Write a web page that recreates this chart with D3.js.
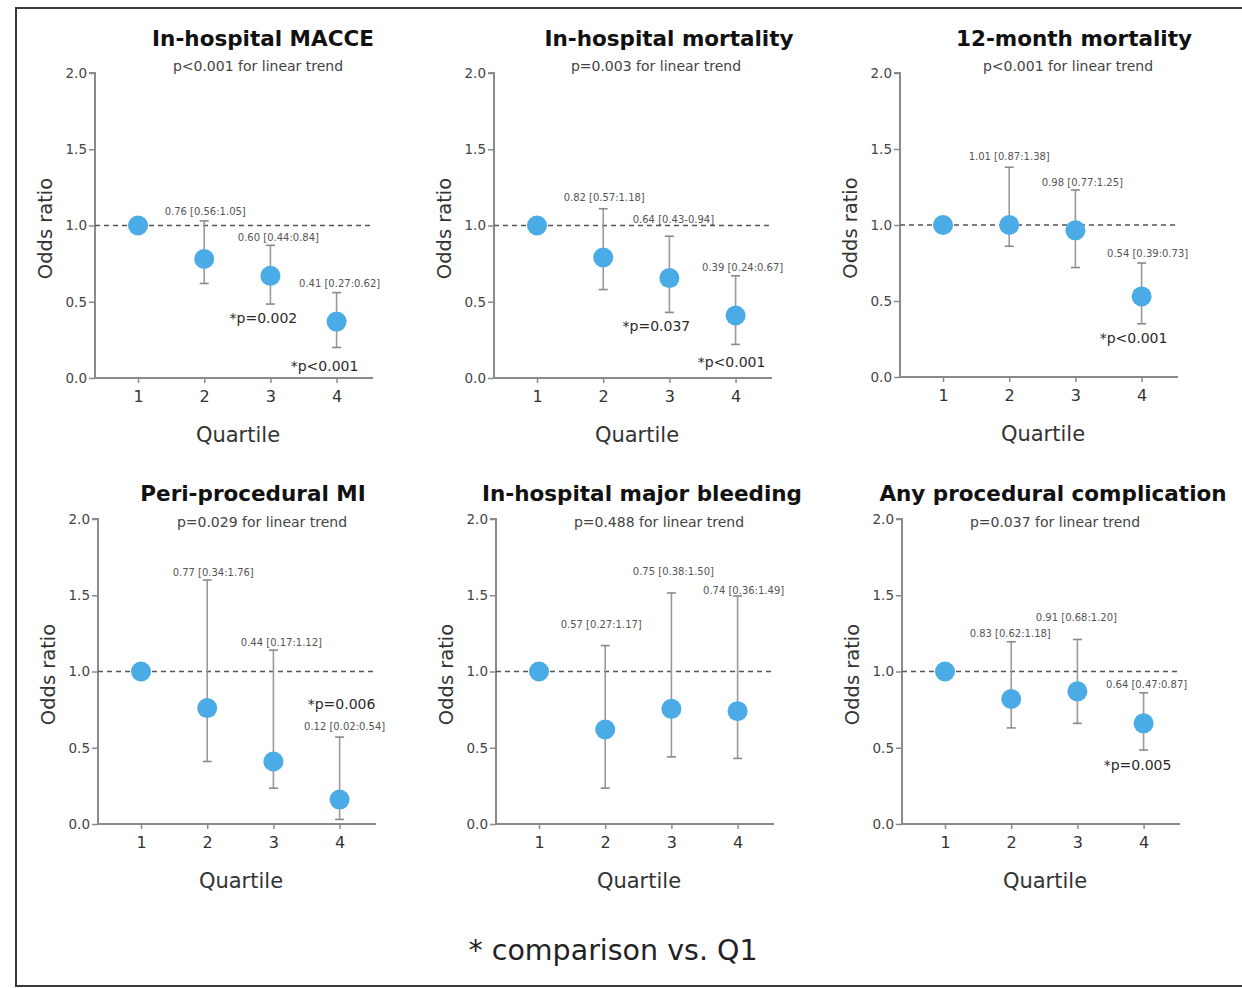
<!DOCTYPE html>
<html><head><meta charset="utf-8">
<script src="https://cdn.jsdelivr.net/npm/d3@7"></script>
<style>
body{margin:0;background:#fff}
svg{display:block}
text{font-family:"DejaVu Sans",Verdana,sans-serif}
</style>
</head><body>
<svg id="c" width="1242" height="988"></svg>
<script>
// ---------------- DATA ----------------
const quartiles = [1, 2, 3, 4];
const yTickValues = [0, 0.5, 1.0, 1.5, 2.0];
const xLabel = "Quartile";
const yLabel = "Odds ratio";
const footnote = "* comparison vs. Q1";

const titles = ["In-hospital MACCE", "In-hospital mortality", "12-month mortality",
                "Peri-procedural MI", "In-hospital major bleeding", "Any procedural complication"];
const trendLabels = ["p<0.001 for linear trend", "p=0.003 for linear trend", "p<0.001 for linear trend",
                     "p=0.029 for linear trend", "p=0.488 for linear trend", "p=0.037 for linear trend"];

// odds ratio (plotted), lower CI, upper CI per quartile
const orMACCE = [1.0, 0.78, 0.67, 0.37];
const loMACCE = [null, 0.62, 0.485, 0.20];
const hiMACCE = [null, 1.03, 0.87, 0.56];
const ciTextMACCE = ["", "0.76 [0.56:1.05]", "0.60 [0.44:0.84]", "0.41 [0.27:0.62]"];
const sigMACCE = ["", "", "*p=0.002", "*p<0.001"];

const orMort = [1.0, 0.79, 0.655, 0.41];
const loMort = [null, 0.58, 0.43, 0.22];
const hiMort = [null, 1.11, 0.93, 0.67];
const ciTextMort = ["", "0.82 [0.57:1.18]", "0.64 [0.43-0.94]", "0.39 [0.24:0.67]"];
const sigMort = ["", "", "*p=0.037", "*p<0.001"];

const or12m = [1.0, 1.0, 0.965, 0.53];
const lo12m = [null, 0.86, 0.72, 0.35];
const hi12m = [null, 1.38, 1.23, 0.75];
const ciText12m = ["", "1.01 [0.87:1.38]", "0.98 [0.77:1.25]", "0.54 [0.39:0.73]"];
const sig12m = ["", "", "", "*p<0.001"];

const orMI = [1.0, 0.76, 0.41, 0.16];
const loMI = [null, 0.41, 0.235, 0.03];
const hiMI = [null, 1.60, 1.14, 0.57];
const ciTextMI = ["", "0.77 [0.34:1.76]", "0.44 [0.17:1.12]", "0.12 [0.02:0.54]"];
const sigMI = ["", "", "", "*p=0.006"];

const orBleed = [1.0, 0.62, 0.755, 0.74];
const loBleed = [null, 0.235, 0.44, 0.43];
const hiBleed = [null, 1.17, 1.515, 1.495];
const ciTextBleed = ["", "0.57 [0.27:1.17]", "0.75 [0.38:1.50]", "0.74 [0.36:1.49]"];
const sigBleed = ["", "", "", ""];

const orComp = [1.0, 0.82, 0.87, 0.66];
const loComp = [null, 0.63, 0.66, 0.485];
const hiComp = [null, 1.195, 1.21, 0.86];
const ciTextComp = ["", "0.83 [0.62:1.18]", "0.91 [0.68:1.20]", "0.64 [0.47:0.87]"];
const sigComp = ["", "", "", "*p=0.005"];

// ---------------- LAYOUT ----------------
const panelData = [
  {or: orMACCE, lo: loMACCE, hi: hiMACCE, ci: ciTextMACCE, sig: sigMACCE},
  {or: orMort, lo: loMort, hi: hiMort, ci: ciTextMort, sig: sigMort},
  {or: or12m, lo: lo12m, hi: hi12m, ci: ciText12m, sig: sig12m},
  {or: orMI, lo: loMI, hi: hiMI, ci: ciTextMI, sig: sigMI},
  {or: orBleed, lo: loBleed, hi: hiBleed, ci: ciTextBleed, sig: sigBleed},
  {or: orComp, lo: loComp, hi: hiComp, ci: ciTextComp, sig: sigComp}
];
const layout = [
  {ax: 95,  y0: 378, y2: 73,  tx: 263,  ty: 38,  sx: 258,  sy: 66,
   ciOff: [null, [1,-9], [8,-8], [3,-9]], sigOff: [null, null, [-7,14], [-12,19]]},
  {ax: 494, y0: 378, y2: 73,  tx: 669,  ty: 38,  sx: 656,  sy: 66,
   ciOff: [null, [1,-11], [4,-17], [7,-8]], sigOff: [null, null, [-13,14], [-4,18]]},
  {ax: 900, y0: 377, y2: 73,  tx: 1074, ty: 38,  sx: 1068, sy: 66,
   ciOff: [null, [0,-11], [7,-8], [6,-10]], sigOff: [null, null, null, [-8,14]]},
  {ax: 98,  y0: 824, y2: 519, tx: 253,  ty: 493, sx: 262,  sy: 522,
   ciOff: [null, [6,-8], [8,-8], [5,-11]], sigOff: [null, null, null, [2,-115]]},
  {ax: 496, y0: 824, y2: 519, tx: 642,  ty: 493, sx: 659,  sy: 522,
   ciOff: [null, [-4,-21], [2,-21], [6,-6]], sigOff: [null, null, null, null]},
  {ax: 902, y0: 824, y2: 519, tx: 1053, ty: 493, sx: 1055, sy: 522,
   ciOff: [null, [-1,-8], [-1,-22], [3,-8]], sigOff: [null, null, null, [-6,15]]}
];

const axisColor = "#8a8a8a";
const pointColor = "#4aabe6";
const fontFam = '"DejaVu Sans", Verdana, sans-serif';
const svg = d3.select("#c");

// outer frame
svg.append("rect").attr("x", 16).attr("y", 8).attr("width", 1260).attr("height", 978)
  .attr("fill", "none").attr("stroke", "#3a3a3a").attr("stroke-width", 2);

panelData.forEach((d, i) => {
  const L = layout[i];
  const g = svg.append("g");
  const x = d3.scaleLinear().domain([0.35, 4.55]).range([L.ax, L.ax + 278]);
  const y = d3.scaleLinear().domain([0, 2]).range([L.y0, L.y2]);

  // y axis
  const yAxis = d3.axisLeft(y).tickValues(yTickValues).tickFormat(d3.format(".1f")).tickSize(6).tickPadding(2);
  const ya = g.append("g").attr("transform", `translate(${L.ax},0)`).call(yAxis);
  ya.select(".domain").attr("stroke", axisColor).attr("stroke-width", 2).attr("d", `M-6,${y(2)}H0V${y(0)}`);
  ya.selectAll(".tick line").attr("stroke", axisColor).attr("stroke-width", 1.5);
  ya.selectAll(".tick text").attr("fill", "#444").style("font-size", "13.5px").style("font-family", fontFam);

  // x axis
  const xAxis = d3.axisBottom(x).tickValues(quartiles).tickFormat(d3.format("d")).tickSize(5).tickPadding(8);
  const xa = g.append("g").attr("transform", `translate(0,${L.y0})`).call(xAxis);
  xa.select(".domain").attr("stroke", axisColor).attr("stroke-width", 2).attr("d", `M${L.ax},0H${L.ax + 278}`);
  xa.selectAll(".tick line").attr("stroke", axisColor).attr("stroke-width", 1.5);
  xa.selectAll(".tick text").attr("fill", "#333").style("font-size", "16px").style("font-family", fontFam);

  // reference line at OR=1
  g.append("line").attr("x1", L.ax).attr("x2", L.ax + 278).attr("y1", y(1)).attr("y2", y(1))
    .attr("stroke", "#555").attr("stroke-width", 1.3).attr("stroke-dasharray", "5,4");

  // error bars
  quartiles.forEach((q, k) => {
    if (d.lo[k] == null) return;
    const cx = x(q);
    g.append("line").attr("x1", cx).attr("x2", cx).attr("y1", y(d.lo[k])).attr("y2", y(d.hi[k]))
      .attr("stroke", "#9a9a9a").attr("stroke-width", 1.6);
    [d.lo[k], d.hi[k]].forEach(v => {
      g.append("line").attr("x1", cx - 4.5).attr("x2", cx + 4.5).attr("y1", y(v)).attr("y2", y(v))
        .attr("stroke", "#8a8a8a").attr("stroke-width", 1.6);
    });
  });

  // points
  g.selectAll("circle.pt").data(quartiles).join("circle").attr("class", "pt")
    .attr("cx", q => x(q)).attr("cy", (q, k) => y(d.or[k])).attr("r", 10)
    .attr("fill", pointColor);

  // CI text and significance
  quartiles.forEach((q, k) => {
    if (d.ci[k]) {
      const o = L.ciOff[k];
      g.append("text").attr("x", x(q) + o[0]).attr("y", y(d.hi[k]) + o[1]).attr("dy", "0.35em")
        .attr("text-anchor", "middle").attr("fill", "#555").style("font-size", "10px").text(d.ci[k]);
    }
    if (d.sig[k]) {
      const o = L.sigOff[k];
      g.append("text").attr("x", x(q) + o[0]).attr("y", y(d.lo[k]) + o[1]).attr("dy", "0.35em")
        .attr("text-anchor", "middle").attr("fill", "#2a2a2a").style("font-size", "14px").text(d.sig[k]);
    }
  });

  // titles
  g.append("text").attr("x", L.tx).attr("y", L.ty).attr("dy", "0.35em").attr("text-anchor", "middle")
    .attr("fill", "#111").style("font-size", "21.5px").style("font-weight", "bold").text(titles[i]);
  g.append("text").attr("x", L.sx).attr("y", L.sy).attr("dy", "0.35em").attr("text-anchor", "middle")
    .attr("fill", "#444").style("font-size", "14px").text(trendLabels[i]);

  // axis labels
  g.append("text").attr("x", L.ax + 143).attr("y", L.y0 + 57).attr("dy", "0.35em").attr("text-anchor", "middle")
    .attr("fill", "#333").style("font-size", "21px").text(xLabel);
  g.append("text").attr("transform", `translate(${L.ax - 50},${(y(0) + y(2)) / 2 + 3}) rotate(-90)`)
    .attr("dy", "0.35em").attr("text-anchor", "middle").attr("fill", "#333").style("font-size", "19.5px").text(yLabel);
});

svg.append("text").attr("x", 613).attr("y", 950).attr("dy", "0.35em").attr("text-anchor", "middle")
  .attr("fill", "#222").style("font-size", "28.5px").text(footnote);
</script>
</body></html>
